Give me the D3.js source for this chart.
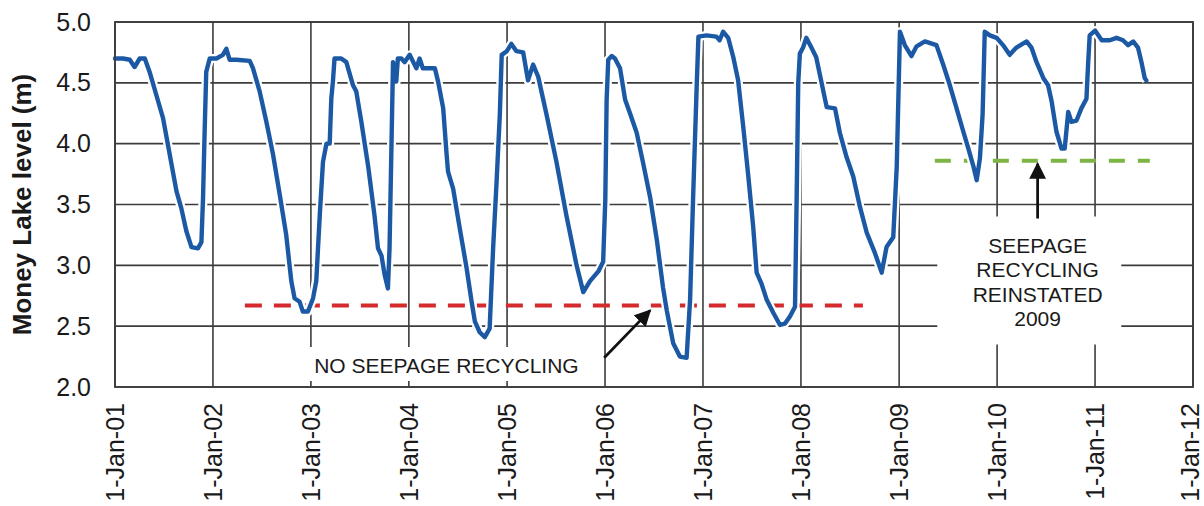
<!DOCTYPE html>
<html>
<head>
<meta charset="utf-8">
<script src="https://cdn.jsdelivr.net/npm/d3@7"></script>
<style>
  html, body { margin: 0; padding: 0; background: #fff; }
  svg { display: block; }
  text { font-family: "Liberation Sans", Arial, sans-serif; fill: #1a1a1a; }
</style>
</head>
<body>
<svg id="chart" width="1204" height="506"></svg>
<script>
// Money Lake water level record, 2001 - 2011
const levelDates = [
  "2001-01-01","2001-01-31","2001-02-25","2001-03-15","2001-04-03","2001-04-22","2001-05-10","2001-06-04",
  "2001-06-29","2001-07-24","2001-08-18","2001-09-05","2001-09-24","2001-10-13","2001-11-06","2001-11-19",
  "2001-11-25","2001-12-01","2001-12-07","2001-12-20",
  "2002-01-14","2002-02-07","2002-02-20","2002-03-04","2002-03-29","2002-05-18","2002-05-30","2002-06-24",
  "2002-07-19","2002-08-13","2002-09-07","2002-10-01","2002-10-20","2002-11-01","2002-11-20","2002-12-02",
  "2002-12-21",
  "2003-01-09","2003-01-21","2003-02-03","2003-02-15","2003-02-28","2003-03-12","2003-03-18","2003-03-24",
  "2003-03-30","2003-04-24","2003-05-13","2003-06-07","2003-06-19","2003-07-08","2003-08-02","2003-08-26",
  "2003-09-08","2003-09-21","2003-10-03","2003-10-15","2003-10-21","2003-10-28","2003-11-03","2003-11-15",
  "2003-11-21","2003-12-04","2003-12-16",
  "2004-01-04","2004-01-29","2004-02-10","2004-02-22","2004-04-07","2004-04-19","2004-05-08","2004-05-20",
  "2004-05-26","2004-06-14","2004-07-09","2004-08-03","2004-08-22","2004-09-03","2004-09-21","2004-10-10",
  "2004-10-28","2004-11-10","2004-11-23","2004-12-05","2004-12-12",
  "2004-12-31","2005-01-17","2005-02-05","2005-03-02","2005-03-20","2005-04-08","2005-04-27","2005-05-28",
  "2005-07-04","2005-08-10","2005-09-17","2005-10-12","2005-11-06","2005-12-07","2005-12-25",
  "2006-01-02","2006-01-07","2006-01-13","2006-01-26","2006-02-07","2006-02-26","2006-03-17","2006-04-04",
  "2006-04-29","2006-05-23","2006-06-18","2006-07-13","2006-08-05","2006-08-19","2006-09-12","2006-10-07",
  "2006-11-01","2006-11-14","2006-11-25","2006-12-09","2006-12-15",
  "2007-01-14","2007-02-20","2007-03-04","2007-03-17","2007-04-05","2007-04-24","2007-05-12","2007-05-31",
  "2007-06-19","2007-07-07","2007-07-20","2007-08-07","2007-08-26","2007-09-20","2007-10-15","2007-11-02",
  "2007-11-21","2007-12-10","2007-12-16","2007-12-22","2007-12-28",
  "2008-01-09","2008-01-21","2008-02-09","2008-02-27","2008-03-18","2008-04-06","2008-05-07","2008-05-25",
  "2008-06-19","2008-07-14","2008-08-08","2008-09-02","2008-10-03","2008-10-28","2008-11-15","2008-12-10",
  "2008-12-23",
  "2009-01-04","2009-01-22","2009-02-16","2009-03-07","2009-04-07","2009-05-20","2009-06-14","2009-07-09",
  "2009-08-03","2009-08-28","2009-09-16","2009-10-04","2009-10-17","2009-10-29","2009-11-08","2009-11-16",
  "2009-12-05","2009-12-30",
  "2010-01-23","2010-02-17","2010-03-14","2010-04-21","2010-05-09","2010-05-28","2010-06-22","2010-07-10",
  "2010-07-23","2010-08-10","2010-08-29","2010-09-10","2010-09-23","2010-10-05","2010-10-24","2010-11-11",
  "2010-11-30","2010-12-06","2010-12-12",
  "2011-01-01","2011-01-26","2011-02-25","2011-03-22","2011-04-15","2011-05-04","2011-05-23","2011-06-10",
  "2011-06-23","2011-07-05","2011-07-11"
];
const levelValues = [
  4.70,4.70,4.69,4.63,4.70,4.70,4.59,4.40,
  4.21,3.91,3.61,3.47,3.28,3.15,3.14,3.19,
  3.55,4.10,4.59,4.70,
  4.70,4.73,4.78,4.69,4.69,4.68,4.62,4.43,
  4.18,3.91,3.58,3.25,2.87,2.73,2.70,2.62,
  2.62,
  2.73,2.87,3.41,3.85,4.00,4.00,4.37,4.51,
  4.70,4.70,4.67,4.48,4.43,4.18,3.82,3.41,
  3.14,3.08,2.92,2.81,3.14,3.96,4.67,4.51,
  4.70,4.70,4.67,
  4.73,4.62,4.70,4.62,4.62,4.51,4.29,3.93,
  3.77,3.63,3.30,2.98,2.70,2.54,2.45,2.41,
  2.48,3.14,3.69,4.24,4.73,
  4.76,4.82,4.76,4.75,4.52,4.65,4.55,4.24,
  3.85,3.41,3.00,2.78,2.87,2.95,3.03,
  3.54,4.36,4.69,4.72,4.70,4.62,4.36,4.25,
  4.09,3.84,3.56,3.21,2.82,2.63,2.36,2.25,
  2.24,2.72,3.54,4.50,4.88,
  4.89,4.88,4.85,4.92,4.87,4.71,4.52,4.14,
  3.73,3.32,2.94,2.85,2.72,2.61,2.51,2.52,
  2.58,2.66,3.54,4.50,4.74,
  4.79,4.87,4.79,4.71,4.50,4.30,4.29,4.09,
  3.89,3.73,3.48,3.27,3.10,2.94,3.15,3.23,
  3.81,
  4.92,4.81,4.72,4.80,4.84,4.81,4.65,4.48,
  4.29,4.10,3.96,3.82,3.70,3.88,4.24,4.92,
  4.89,4.87,
  4.81,4.73,4.79,4.84,4.79,4.67,4.54,4.48,
  4.35,4.10,3.96,3.96,4.26,4.18,4.19,4.29,
  4.37,4.65,4.89,
  4.93,4.85,4.85,4.87,4.85,4.81,4.84,4.79,
  4.67,4.54,4.52
];

const yTicks = [2.0, 2.5, 3.0, 3.5, 4.0, 4.5, 5.0];
const xDomain = ["2001-01-01", "2012-01-01"];

// Reference levels: without seepage recycling, and after it was reinstated
const noRecycleLevel = 2.67;
const noRecycleSpan = ["2002-04-30", "2008-08-19"];
const reinstatedLevel = 3.86;
const reinstatedSpan = ["2009-05-14", "2011-07-24"];

const noRecycleLabel = ["NO SEEPAGE RECYCLING"];
const reinstatedLabel = ["SEEPAGE", "RECYCLING", "REINSTATED", "2009"];
const yTitle = "Money Lake level (m)";

const parse = d3.timeParse("%Y-%m-%d");
const series = levelDates.map((d, i) => ({ date: parse(d), value: levelValues[i] }));

const svg = d3.select("#chart");
const margin = { left: 115, top: 22, right: 11, bottom: 119 };
const W = 1204, H = 506;
const plotW = W - margin.left - margin.right;
const plotH = H - margin.top - margin.bottom;

const x = d3.scaleTime().domain(xDomain.map(parse)).range([margin.left, margin.left + plotW]);
const y = d3.scaleLinear().domain([2, 5]).range([margin.top + plotH, margin.top]);

const gridColor = "#3c3c3c";
const yearTicks = d3.timeYear.range(parse("2001-01-01"), d3.timeDay.offset(parse("2012-01-01"), 1));

// Grid
const grid = svg.append("g");
grid.selectAll("line.h").data(yTicks).join("line")
  .attr("x1", margin.left).attr("x2", margin.left + plotW)
  .attr("y1", d => y(d)).attr("y2", d => y(d))
  .attr("stroke", gridColor).attr("stroke-width", 1.6);
grid.selectAll("line.v").data(yearTicks).join("line")
  .attr("x1", d => x(d)).attr("x2", d => x(d))
  .attr("y1", margin.top).attr("y2", margin.top + plotH)
  .attr("stroke", gridColor).attr("stroke-width", 1.6);

// White boxes behind the annotation texts
const noRecX = x(parse("2004-05-20"));
const noRecY = y(2.0) - 14;
svg.append("rect")
  .attr("x", noRecX - 146).attr("y", noRecY - 26)
  .attr("width", 292).attr("height", 34).attr("fill", "#fff");

const reX = x(parse("2010-05-01"));
svg.append("rect")
  .attr("x", reX - 92).attr("y", y(3.5) + 12)
  .attr("width", 184).attr("height", 128).attr("fill", "#fff");

// Reference dashed lines
svg.append("line")
  .attr("x1", x(parse(noRecycleSpan[0]))).attr("x2", x(parse(noRecycleSpan[1])))
  .attr("y1", y(noRecycleLevel)).attr("y2", y(noRecycleLevel))
  .attr("stroke", "#d42a2e").attr("stroke-width", 4).attr("stroke-dasharray", "17,12");
svg.append("line")
  .attr("x1", x(parse(reinstatedSpan[0]))).attr("x2", x(parse(reinstatedSpan[1])))
  .attr("y1", y(reinstatedLevel)).attr("y2", y(reinstatedLevel))
  .attr("stroke", "#7db545").attr("stroke-width", 4).attr("stroke-dasharray", "16,13");

// Lake level line
const line = d3.line().x(d => x(d.date)).y(d => y(d.value)).curve(d3.curveLinear);
svg.append("path").datum(series)
  .attr("d", line).attr("fill", "none")
  .attr("stroke", "#ffffff").attr("stroke-width", 9).attr("stroke-linejoin", "round");
svg.append("path").datum(series)
  .attr("d", line).attr("fill", "none")
  .attr("stroke", "#1c59a5").attr("stroke-width", 4.4)
  .attr("stroke-linejoin", "round").attr("stroke-linecap", "round");

// Plot frame
svg.append("rect")
  .attr("x", margin.left).attr("y", margin.top)
  .attr("width", plotW).attr("height", plotH)
  .attr("fill", "none").attr("stroke", gridColor).attr("stroke-width", 1.8);

// Axes (labels only)
const yAxis = d3.axisLeft(y).tickValues(yTicks).tickFormat(d3.format(".1f")).tickSize(0).tickPadding(24);
const gy = svg.append("g").attr("transform", `translate(${margin.left},0)`).call(yAxis);
gy.select(".domain").remove();
gy.selectAll("text").style("font-size", "25px").attr("fill", "#1a1a1a")
  .style("font-family", "'Liberation Sans', Arial, sans-serif");

const xAxis = d3.axisBottom(x).tickValues(yearTicks).tickFormat(d3.timeFormat("%-d-%b-%y")).tickSize(0);
const gx = svg.append("g").attr("transform", `translate(0,${margin.top + plotH})`).call(xAxis);
gx.select(".domain").remove();
const lastTick = yearTicks.length - 1;
gx.selectAll("text")
  .style("font-size", "25px").attr("fill", "#1a1a1a")
  .style("font-family", "'Liberation Sans', Arial, sans-serif")
  .attr("text-anchor", "end")
  .attr("transform", "rotate(-90)")
  .attr("x", -16)
  .attr("y", (d, i) => (i === lastTick ? -3 : 0))
  .attr("dy", "0.35em");

// Y title
svg.append("text")
  .attr("transform", `translate(22,${margin.top + plotH / 2}) rotate(-90)`)
  .attr("text-anchor", "middle").attr("dy", "0.35em")
  .style("font-size", "26px").style("font-weight", "bold")
  .text(yTitle);

// Arrow heads
const defs = svg.append("defs");
defs.append("marker").attr("id", "arrowhead")
  .attr("viewBox", "0 0 10 10").attr("refX", 9).attr("refY", 5)
  .attr("markerWidth", 6).attr("markerHeight", 6).attr("markerUnits", "strokeWidth")
  .attr("orient", "auto")
  .append("path").attr("d", "M0,0 L10,5 L0,10 Z").attr("fill", "#111");

// Annotation: no seepage recycling
svg.selectAll("text.norec").data(noRecycleLabel).join("text")
  .attr("x", noRecX).attr("y", noRecY)
  .attr("text-anchor", "middle").style("font-size", "21px")
  .text(d => d);
svg.append("line")
  .attr("x1", x(parse("2005-12-29"))).attr("y1", y(2.24))
  .attr("x2", x(parse("2006-06-18"))).attr("y2", y(2.63))
  .attr("stroke", "#111").attr("stroke-width", 2.8).attr("marker-end", "url(#arrowhead)");

// Annotation: recycling reinstated
svg.selectAll("text.rein").data(reinstatedLabel).join("text")
  .attr("x", x(parse("2010-06-01"))).attr("y", (d, i) => y(3.5) + 48 + i * 24.5)
  .attr("text-anchor", "middle").style("font-size", "21px")
  .text(d => d);
svg.append("line")
  .attr("x1", x(parse("2010-06-01"))).attr("y1", y(3.5) + 14)
  .attr("x2", x(parse("2010-06-01"))).attr("y2", y(reinstatedLevel) + 3)
  .attr("stroke", "#111").attr("stroke-width", 2.8).attr("marker-end", "url(#arrowhead)");
</script>
</body>
</html>
